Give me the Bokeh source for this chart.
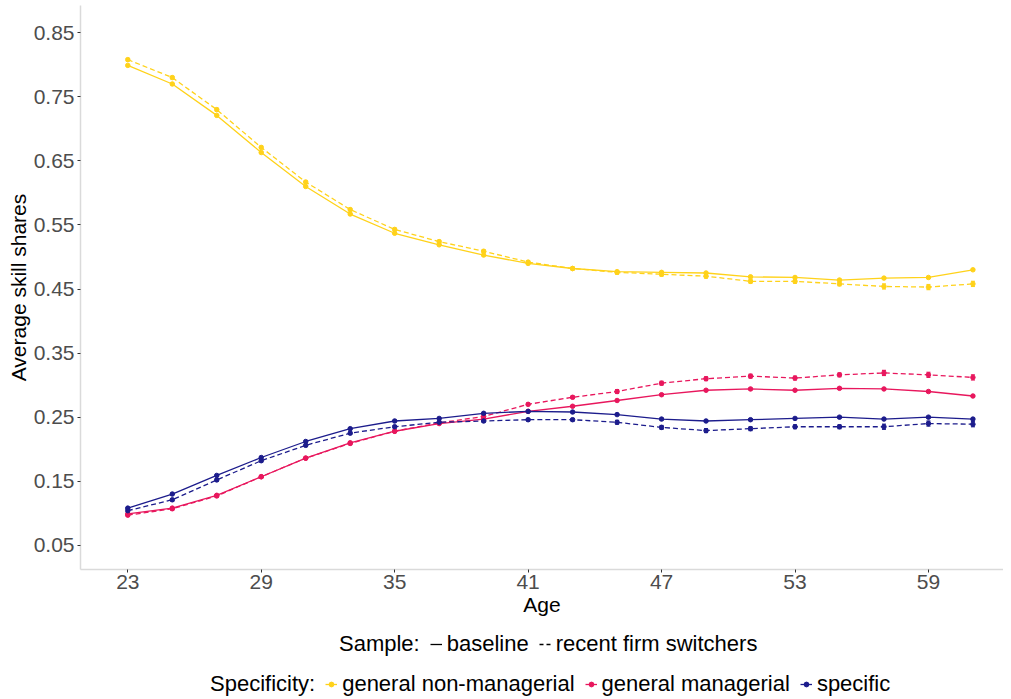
from bokeh.plotting import figure
from bokeh.layouts import column
from bokeh.models import (Range1d, FixedTicker, Legend, LegendItem,
                          ColumnDataSource, Whisker, TeeHead)
from bokeh.embed import file_html
from bokeh.resources import INLINE

# ---------------- data ----------------
ages = [23, 25, 27, 29, 31, 33, 35, 37, 39, 41, 43, 45, 47, 49, 51, 53, 55, 57, 59, 61]

gen_nonman_base = [0.799, 0.770, 0.721, 0.663, 0.610, 0.567, 0.537, 0.519, 0.503, 0.490,
                   0.482, 0.477, 0.476, 0.475, 0.469, 0.468, 0.464, 0.467, 0.468, 0.480]
gen_nonman_switch = [0.808, 0.780, 0.730, 0.671, 0.617, 0.574, 0.543, 0.524, 0.509, 0.492,
                     0.482, 0.476, 0.473, 0.470, 0.462, 0.462, 0.458, 0.454, 0.453, 0.458]
gen_man_base = [0.099, 0.108, 0.128, 0.157, 0.186, 0.210, 0.228, 0.240, 0.247, 0.259,
                0.267, 0.276, 0.285, 0.292, 0.294, 0.292, 0.295, 0.294, 0.290, 0.283]
gen_man_switch = [0.097, 0.107, 0.127, 0.157, 0.186, 0.209, 0.228, 0.241, 0.251, 0.270,
                  0.281, 0.290, 0.303, 0.310, 0.314, 0.311, 0.316, 0.319, 0.316, 0.312]
specific_base = [0.108, 0.130, 0.159, 0.187, 0.212, 0.232, 0.244, 0.248, 0.256, 0.259,
                 0.258, 0.254, 0.247, 0.244, 0.246, 0.248, 0.250, 0.247, 0.250, 0.247]
specific_switch = [0.104, 0.121, 0.152, 0.182, 0.206, 0.225, 0.235, 0.242, 0.244, 0.246,
                   0.246, 0.242, 0.234, 0.229, 0.232, 0.235, 0.235, 0.235, 0.240, 0.239]

# half-widths of the (tiny) confidence bars
se_base = [0.001] * 20
se_switch = [0.002, 0.002, 0.002, 0.002, 0.002, 0.002, 0.002, 0.002, 0.002, 0.002,
             0.002, 0.003, 0.003, 0.003, 0.003, 0.003, 0.003, 0.004, 0.004, 0.004]

y_ticks = [0.05, 0.15, 0.25, 0.35, 0.45, 0.55, 0.65, 0.75, 0.85]
x_ticks = [23, 29, 35, 41, 47, 53, 59]

series_names = ["general non-managerial", "general managerial", "specific"]
colors = ["#FFD21A", "#E8175D", "#1C1C8C"]
base_vals = [gen_nonman_base, gen_man_base, specific_base]
switch_vals = [gen_nonman_switch, gen_man_switch, specific_switch]
sample_names = ["baseline", "recent firm switchers"]

FONT = "Liberation Sans"
W = 1003

# ---------------- main plot ----------------
p = figure(width=W, height=624, output_backend="svg", toolbar_location=None,
           x_range=Range1d(20.873, 62.375), y_range=Range1d(0.0122, 0.8925),
           min_border_left=80, min_border_right=0, min_border_top=5,
           min_border_bottom=55, title=None)
p.outline_line_color = None
p.xgrid.visible = False
p.ygrid.visible = False
p.background_fill_color = "white"
p.border_fill_color = "white"

for ax in (p.xaxis[0], p.yaxis[0]):
    ax.axis_line_color = "#DADADA"
    ax.axis_line_width = 1.5
    ax.major_tick_line_color = "#333333"
    ax.major_tick_in = 0
    ax.major_tick_out = 3
    ax.minor_tick_line_color = None
    ax.major_label_text_font = FONT
    ax.major_label_text_font_size = "21px"
    ax.major_label_text_color = "#4D4D4D"
    ax.axis_label_text_font = FONT
    ax.axis_label_text_font_size = "21px"
    ax.axis_label_text_font_style = "normal"
    ax.axis_label_text_color = "black"

p.xaxis.ticker = FixedTicker(ticks=x_ticks)
p.yaxis.ticker = FixedTicker(ticks=y_ticks)
p.yaxis.major_label_overrides = {t: f"{t:.2f}" for t in y_ticks}
p.xaxis.axis_label = "Age"
p.yaxis.axis_label = "Average skill shares"
p.xaxis.major_label_standoff = 2
p.yaxis.major_label_standoff = 3
p.xaxis.axis_label_standoff = 1
p.yaxis.axis_label_standoff = 1

DASH = "5 3"
for name, col, bv, sv in zip(series_names, colors, base_vals, switch_vals):
    for vals, dash, se in ((bv, "solid", se_base), (sv, DASH, se_switch)):
        src = ColumnDataSource(dict(
            x=ages, y=vals,
            lo=[v - e for v, e in zip(vals, se)],
            hi=[v + e for v, e in zip(vals, se)]))
        p.line("x", "y", source=src, line_color=col, line_width=1.3, line_dash=dash)
        p.add_layout(Whisker(source=src, base="x", lower="lo", upper="hi",
                             line_color=col, line_width=1.2,
                             lower_head=TeeHead(size=4, line_color=col, line_width=1.2),
                             upper_head=TeeHead(size=4, line_color=col, line_width=1.2)))
        p.scatter("x", "y", source=src, size=4.5, marker="circle",
                  fill_color=col, line_color=col)

# ---------------- legend strip ----------------
lp = figure(width=W, height=73, output_backend="svg", toolbar_location=None,
            x_range=Range1d(0, 1), y_range=Range1d(0, 1),
            min_border_left=0, min_border_right=0, min_border_top=0,
            min_border_bottom=0, title=None)
lp.axis.visible = False
lp.grid.visible = False
lp.outline_line_color = None
lp.background_fill_color = "white"
lp.border_fill_color = "white"

def off_src():
    # key-only renderers: their points lie outside the strip's visible range
    return ColumnDataSource(dict(x=[-5, -4], y=[-5, -5]))

r_title1 = lp.line(x="x", y="y", source=off_src(), line_alpha=0)
r_title2 = lp.line(x="x", y="y", source=off_src(), line_alpha=0)
r_solid = lp.line(x="x", y="y", source=off_src(), line_color="black", line_width=1.3)
r_dash = lp.line(x="x", y="y", source=off_src(), line_color="black",
                 line_width=1.3, line_dash="4 3")

spec_items = [LegendItem(label="Specificity:", renderers=[r_title2])]
for name, col in zip(series_names, colors):
    rl = lp.line(x="x", y="y", source=off_src(), line_color=col, line_width=1.3)
    rs = lp.scatter(x="x", y="y", source=off_src(), size=4, fill_color=col,
                    line_color=col)
    spec_items.append(LegendItem(label=name, renderers=[rl, rs]))

sample_items = [LegendItem(label="Sample:", renderers=[r_title1]),
                LegendItem(label=sample_names[0], renderers=[r_solid]),
                LegendItem(label=sample_names[1], renderers=[r_dash])]

def style_legend(lg):
    lg.orientation = "horizontal"
    lg.border_line_color = None
    lg.background_fill_alpha = 0
    lg.padding = 0
    lg.margin = 0
    lg.spacing = 10
    lg.label_standoff = 5
    lg.glyph_width = 12
    lg.glyph_height = 20
    lg.label_height = 20
    lg.label_text_font = FONT
    lg.label_text_font_size = "22px"
    lg.label_text_color = "black"

leg1 = Legend(items=sample_items, location=(242, 40))
style_legend(leg1)
leg2 = Legend(items=spec_items, location=(113, 0))
style_legend(leg2)
lp.add_layout(leg1)
lp.add_layout(leg2)

layout = column(p, lp, spacing=0)
open("out.html", "w").write(file_html(layout, INLINE))
